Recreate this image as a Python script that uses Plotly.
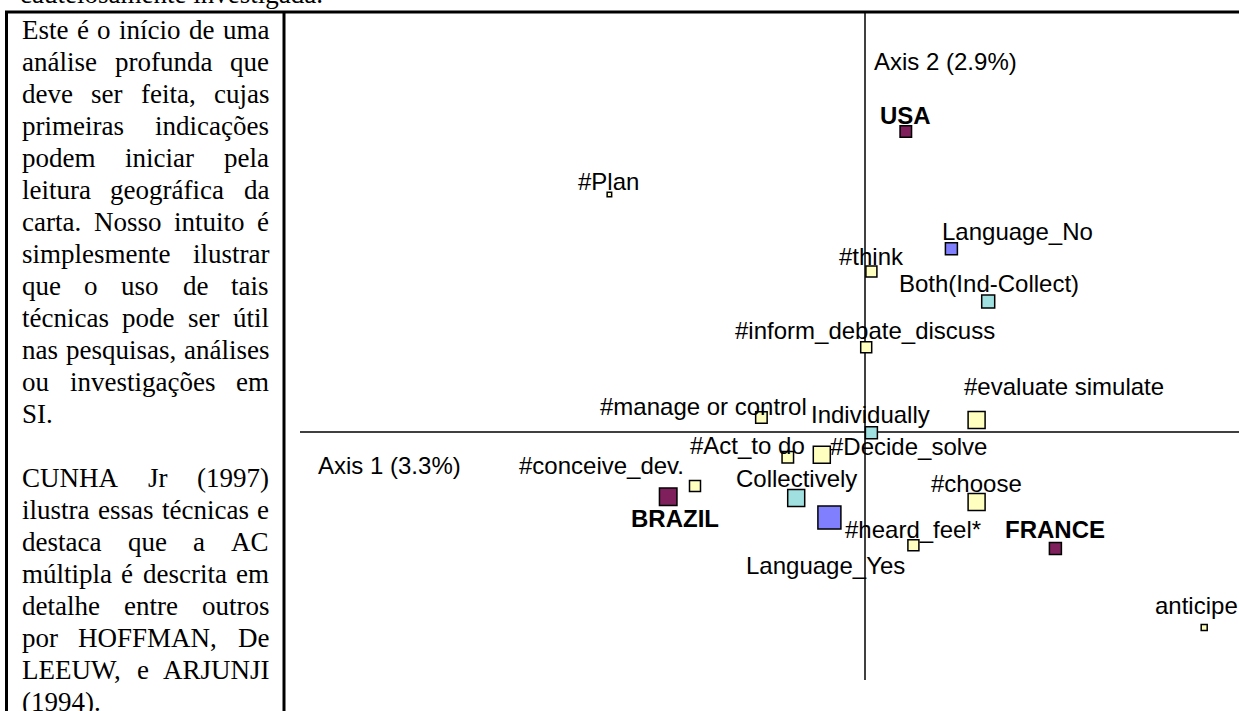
import plotly.graph_objects as go

W, H = 1239, 711

# ---------------- data ----------------
countries = ["USA", "BRAZIL", "FRANCE"]
country_x = [0.102, -0.492, 0.476]
country_y = [0.751, -0.162, -0.291]
country_mass = [11.5, 17.5, 12]

verbs = ["#Plan", "#think", "#inform_debate_discuss", "#evaluate simulate",
         "#manage or control", "#Act_to do", "#Decide_solve", "#conceive_dev.",
         "#choose", "#heard_feel*", "anticipe"]
verb_x = [-0.639, 0.016, 0.003, 0.279, -0.259, -0.193, -0.108, -0.425, 0.279, 0.121, 0.848]
verb_y = [0.594, 0.401, 0.212, 0.030, 0.036, -0.063, -0.057, -0.135, -0.175, -0.283, -0.489]
verb_mass = [4.5, 11, 11, 17, 11.5, 11.5, 17, 11, 17, 11, 6]

modes = ["Individually", "Collectively", "Both(Ind-Collect)"]
mode_x = [0.016, -0.172, 0.308]
mode_y = [-0.002, -0.165, 0.326]
mode_mass = [12, 17, 13]

language = ["Language_Yes", "Language_No"]
lang_x = [-0.089, 0.216]
lang_y = [-0.214, 0.458]
lang_mass = [23, 12]

axis1_title = "Axis 1 (3.3%)"
axis2_title = "Axis 2 (2.9%)"

top_line = "cautelosamente investigada."
side_text_lines = [
    "Este é o início de uma",
    "análise profunda que",
    "deve ser feita, cujas",
    "primeiras indicações",
    "podem iniciar pela",
    "leitura geográfica da",
    "carta. Nosso intuito é",
    "simplesmente ilustrar",
    "que o uso de tais",
    "técnicas pode ser útil",
    "nas pesquisas, análises",
    "ou investigações em",
    "SI.",
    "",
    "CUNHA Jr (1997)",
    "ilustra essas técnicas e",
    "destaca que a AC",
    "múltipla é descrita em",
    "detalhe entre outros",
    "por HOFFMAN, De",
    "LEEUW, e ARJUNJI",
    "(1994).",
]
paragraph_last_lines = {"SI.", "(1994)."}

# ---------------- styling / layout ----------------
X0, X1 = -2.1625, 0.935
Y0, Y1 = -0.6975, 1.08

COL_COUNTRY = "#7f1f5c"
COL_VERB = "#ffffc0"
COL_MODE = "#a0e0e0"
COL_LANG = "#8080ff"

LABEL_FONT = "Liberation Sans, Arial, sans-serif"
LABEL_SIZE = 24
SERIF = "Liberation Serif, Times New Roman, serif"
SERIF_SIZE = 27

label_offsets = {
    "USA": (0, 16), "BRAZIL": (7, -22), "FRANCE": (0, 19),
    "#Plan": (-1, 13), "#think": (0, 15), "#inform_debate_discuss": (-1.5, 17),
    "#evaluate simulate": (87.6, 34), "#manage or control": (-58, 11),
    "#Act_to do": (-40, 12), "#Decide_solve": (87, 8), "#conceive_dev.": (-94, 21),
    "#choose": (0, 19), "#heard_feel*": (0, 16), "anticipe": (-8, 22.5),
    "Individually": (-1, 18), "Collectively": (0, 20), "Both(Ind-Collect)": (0.7, 17.7),
    "Language_Yes": (-4, -48), "Language_No": (66, 17),
}

fig = go.Figure()


def add_group(names, xs, ys, mass, color):
    fig.add_trace(go.Scatter(
        x=xs, y=ys, mode="markers", text=names, hoverinfo="text",
        marker=dict(symbol="square", size=mass, color=color, opacity=1,
                    line=dict(color="black", width=1.5)),
        showlegend=False, cliponaxis=False,
    ))


add_group(verbs, verb_x, verb_y, verb_mass, COL_VERB)
add_group(modes, mode_x, mode_y, mode_mass, COL_MODE)
add_group(language, lang_x, lang_y, lang_mass, COL_LANG)
add_group(countries, country_x, country_y, country_mass, COL_COUNTRY)

annotations = []


def add_labels(names, xs, ys, bold=False):
    for n, x, y in zip(names, xs, ys):
        dx, dy = label_offsets[n]
        annotations.append(dict(
            x=x, y=y, xref="x", yref="y", text=f"<b>{n}</b>" if bold else n,
            showarrow=False, xanchor="center", yanchor="middle",
            xshift=dx, yshift=dy, borderpad=0, borderwidth=0,
            font=dict(family=LABEL_FONT, size=LABEL_SIZE, color="black"),
        ))


add_labels(verbs, verb_x, verb_y)
add_labels(modes, mode_x, mode_y)
add_labels(language, lang_x, lang_y)
add_labels(countries, country_x, country_y, bold=True)


def px_to_paper(px, py):
    return px / W, 1 - py / H


for txt, (px, py) in [(axis1_title, (389, 466)), (axis2_title, (945, 61))]:
    xp, yp = px_to_paper(px, py)
    annotations.append(dict(
        x=xp, y=yp, xref="paper", yref="paper", text=txt, showarrow=False,
        xanchor="center", yanchor="middle", borderpad=0, borderwidth=0,
        font=dict(family=LABEL_FONT, size=LABEL_SIZE, color="black"),
    ))

# ---- justified serif text in the left box ----
TIMES = {' ': 250, '(': 333, ')': 333, ',': 250, '.': 250, '1': 500, '4': 500, '7': 500, '9': 500,
         'A': 722, 'C': 667, 'D': 722, 'E': 611, 'F': 556, 'H': 722, 'I': 333, 'J': 389, 'L': 611,
         'M': 889, 'N': 722, 'O': 722, 'R': 667, 'S': 556, 'U': 722, 'W': 944,
         'a': 444, 'b': 500, 'c': 444, 'd': 500, 'e': 444, 'f': 333, 'g': 500, 'h': 500, 'i': 278,
         'j': 278, 'k': 500, 'l': 278, 'm': 778, 'n': 500, 'o': 500, 'p': 500, 'q': 500, 'r': 333,
         's': 389, 't': 278, 'u': 500, 'v': 500, 'w': 722, 'x': 500, 'y': 500, 'z': 444,
         'é': 444, 'í': 278, 'á': 444, 'ç': 444, 'õ': 500, 'ú': 500, 'ó': 500}


def tw(s):
    return sum(TIMES.get(c, 500) for c in s) * SERIF_SIZE / 1000.0


TEXT_L, TEXT_R = 22, 269
LINE0_MID, PITCH = 30, 32.0


def serif_ann(txt, px, py):
    xp, yp = px_to_paper(px, py)
    annotations.append(dict(
        x=xp, y=yp, xref="paper", yref="paper", text=txt, showarrow=False,
        xanchor="left", yanchor="middle", borderpad=0, borderwidth=0,
        font=dict(family=SERIF, size=SERIF_SIZE, color="black"),
    ))


serif_ann(top_line, 20, -5.5)

for i, line in enumerate(side_text_lines):
    if not line:
        continue
    py = LINE0_MID + PITCH * i
    words = line.split(" ")
    if line in paragraph_last_lines or len(words) == 1:
        serif_ann(line, TEXT_L, py)
        continue
    widths = [tw(w) for w in words]
    gap = (TEXT_R - TEXT_L - sum(widths)) / (len(words) - 1)
    x = TEXT_L
    for w, wd in zip(words, widths):
        serif_ann(w, x, py)
        x += wd + gap

# ---- frame & axis lines ----
shapes = []
LINE_BLACK = dict(color="black", width=3)
shapes.append(dict(type="line", xref="paper", yref="paper", x0=6.5 / W, x1=6.5 / W,
                   y0=1 - 12 / H, y1=0, line=LINE_BLACK, layer="below"))
shapes.append(dict(type="line", xref="paper", yref="paper", x0=284 / W, x1=284 / W,
                   y0=1 - 12 / H, y1=0, line=LINE_BLACK, layer="below"))
shapes.append(dict(type="line", xref="paper", yref="paper", x0=5 / W, x1=1,
                   y0=1 - 12 / H, y1=1 - 12 / H, line=LINE_BLACK, layer="below"))
shapes.append(dict(type="line", xref="x", yref="y", x0=-1.4125, x1=X1, y0=0, y1=0,
                   line=dict(color="black", width=1.5), layer="below"))
shapes.append(dict(type="line", xref="x", yref="y", x0=0, x1=0, y0=1.05, y1=-0.62,
                   line=dict(color="black", width=1.5), layer="below"))

fig.update_layout(
    width=W, height=H, margin=dict(l=0, r=0, t=0, b=0, pad=0),
    paper_bgcolor="white", plot_bgcolor="white",
    xaxis=dict(range=[X0, X1], visible=False, showgrid=False, zeroline=False, domain=[0, 1]),
    yaxis=dict(range=[Y0, Y1], visible=False, showgrid=False, zeroline=False, domain=[0, 1]),
    shapes=shapes, annotations=annotations, showlegend=False,
    hovermode="closest",
)

fig.write_html(
    "out.html",
    config={"displayModeBar": False},
    post_script="document.body.style.margin='0';document.body.style.overflow='hidden';",
)
